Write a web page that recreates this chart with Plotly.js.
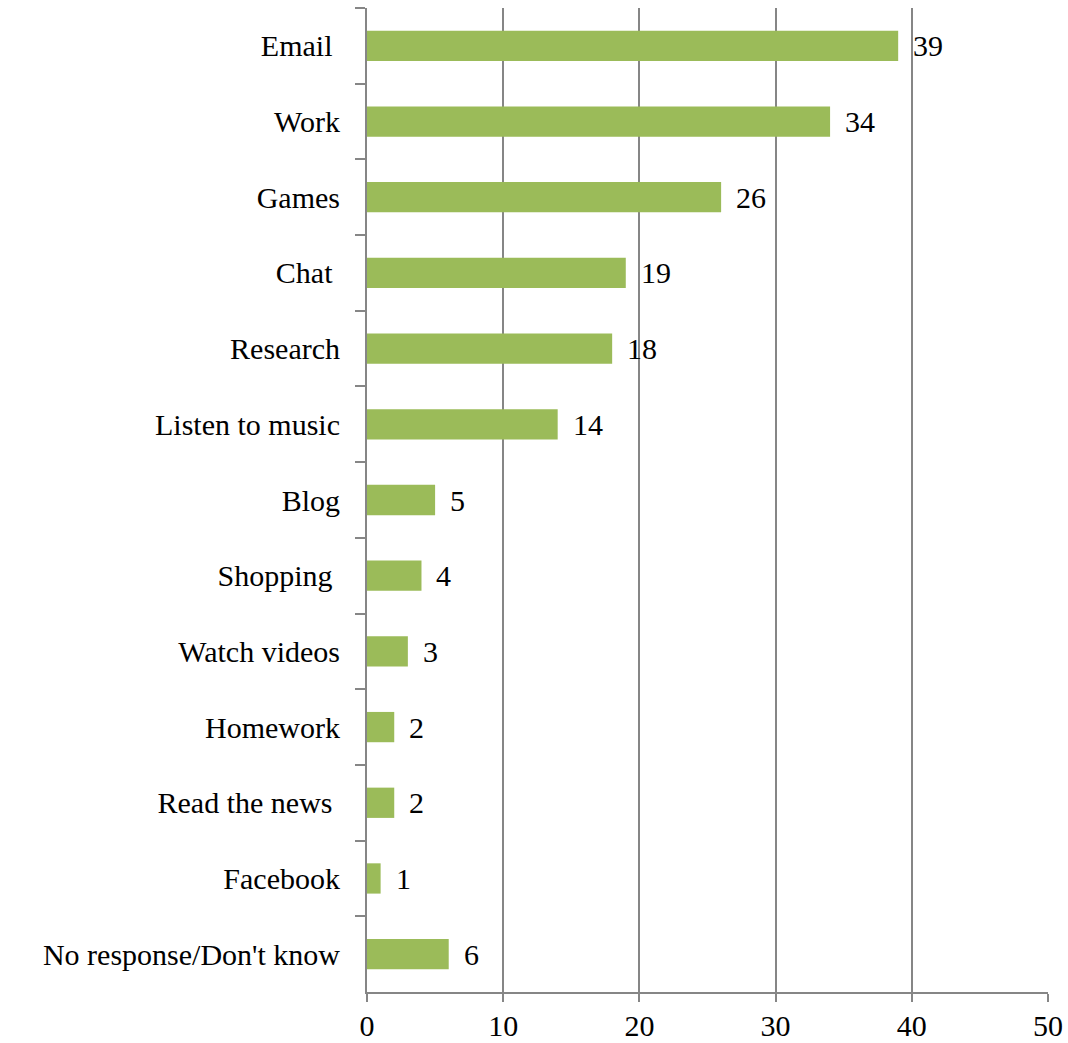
<!DOCTYPE html>
<html>
<head>
<meta charset="utf-8">
<script src="https://cdn.plot.ly/plotly-3.0.1.min.js"></script>
<style>body{margin:0;padding:0;background:#fff;} #chart{width:1068px;height:1043px;}</style>
</head>
<body>
<div id="chart"></div>
<script>
const categories = ["Email\u00a0", "Work", "Games", "Chat\u00a0", "Research", "Listen to music", "Blog", "Shopping\u00a0", "Watch videos", "Homework", "Read the news\u00a0", "Facebook", "No response/Don't know"];
const values = [39, 34, 26, 19, 18, 14, 5, 4, 3, 2, 2, 1, 6];
const xTicks = [0, 10, 20, 30, 40, 50];

const fontFamily = "'Liberation Serif', 'DejaVu Serif', serif";
const gray = "#868686";
const fsize = 30;

const trace = {
  type: "bar",
  orientation: "h",
  y: categories,
  x: values,
  marker: {color: "#9BBB59"},
  hoverinfo: "none"
};

const annotations = categories.map((c, i) => ({
  x: values[i], y: c, xref: "x", yref: "y",
  text: String(values[i]), showarrow: false,
  xanchor: "left", xshift: 13, yshift: 0,
  font: {family: fontFamily, size: fsize, color: "#000"}
}));

const layout = {
  width: 1068, height: 1043,
  margin: {l: 367, r: 20, t: 8, b: 51},
  paper_bgcolor: "#fff", plot_bgcolor: "#fff",
  showlegend: false,
  bargap: 0.6,
  font: {family: fontFamily, size: fsize, color: "#000"},
  xaxis: {
    range: [0, 50], tickvals: xTicks, ticktext: xTicks.map(String),
    showgrid: true, gridcolor: gray, gridwidth: 2,
    showline: true, linecolor: gray, linewidth: 2,
    ticks: "outside", ticklen: 8, tickcolor: gray, tickwidth: 2,
    ticklabelstandoff: -2,
    zeroline: false, fixedrange: true,
    tickfont: {family: fontFamily, size: fsize, color: "#000"}
  },
  yaxis: {
    type: "category", autorange: "reversed",
    showgrid: false, showline: true, linecolor: gray, linewidth: 2,
    ticks: "outside", tickson: "boundaries", ticklen: 10, tickcolor: gray, tickwidth: 2,
    ticklabelstandoff: 19,
    zeroline: false, fixedrange: true,
    tickfont: {family: fontFamily, size: fsize, color: "#000"}
  },
  annotations: annotations
};

Plotly.newPlot("chart", [trace], layout, {displayModeBar: false, staticPlot: true});
</script>
</body>
</html>
